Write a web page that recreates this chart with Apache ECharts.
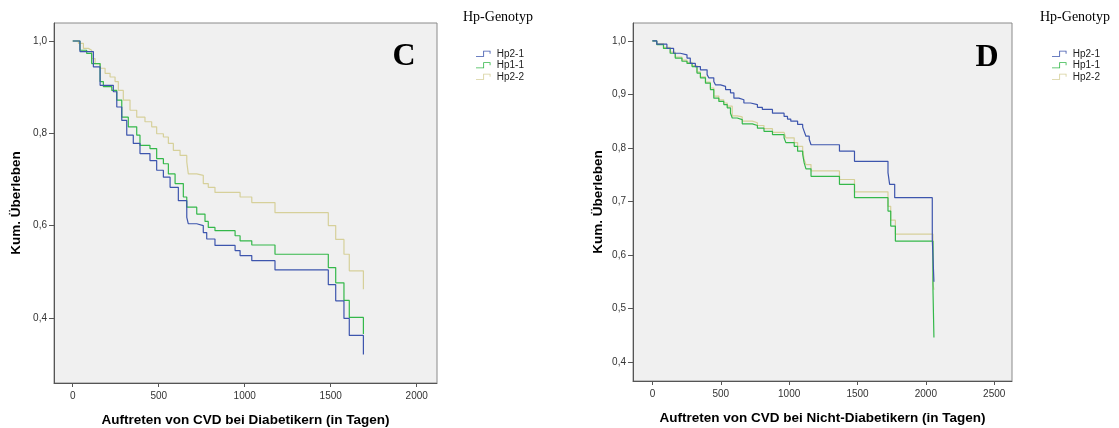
<!DOCTYPE html>
<html>
<head>
<meta charset="utf-8">
<script src="https://cdn.jsdelivr.net/npm/echarts@6/dist/echarts.min.js"></script>
<style>
html,body{margin:0;padding:0;background:#fff;}
#main{width:1119px;height:428px;}
</style>
</head>
<body>
<div id="main"></div>
<script>
// ---- data ----
const seriesNames = ['Hp2-1', 'Hp1-1', 'Hp2-2'];
const panelLetters = ['C', 'D'];
const legendTitle = 'Hp-Genotyp';
const xTitleC = 'Auftreten von CVD bei Diabetikern (in Tagen)';
const xTitleD = 'Auftreten von CVD bei Nicht-Diabetikern (in Tagen)';
const yTitle = 'Kum. Überleben';
const xTicksC = [0, 500, 1000, 1500, 2000];
const xTicksD = [0, 500, 1000, 1500, 2000, 2500];
const yTicksC = [0.4, 0.6, 0.8, 1.0];
const yTicksD = [0.4, 0.5, 0.6, 0.7, 0.8, 0.9, 1.0];

// Panel C (Diabetiker)
const cHp21T = [0, 42, 120, 159, 236, 256, 285, 314, 352, 391, 449, 488, 527, 566, 614, 663, 672, 721, 759, 779, 827, 944, 973, 1041, 1176, 1486, 1529, 1577, 1608, 1690];
const cHp21S = [1.0, 0.977, 0.944, 0.904, 0.890, 0.857, 0.828, 0.796, 0.778, 0.756, 0.741, 0.720, 0.705, 0.683, 0.654, 0.618, 0.604, 0.600, 0.585, 0.571, 0.557, 0.546, 0.535, 0.524, 0.504, 0.472, 0.437, 0.399, 0.362, 0.321];
const cHp11T = [0, 42, 81, 110, 159, 178, 227, 256, 285, 323, 372, 391, 449, 488, 527, 556, 595, 643, 663, 721, 769, 788, 827, 944, 973, 1041, 1176, 1486, 1529, 1577, 1608, 1690];
const cHp11S = [1.0, 0.980, 0.973, 0.951, 0.912, 0.901, 0.893, 0.872, 0.835, 0.814, 0.796, 0.774, 0.767, 0.745, 0.734, 0.712, 0.691, 0.662, 0.640, 0.625, 0.609, 0.596, 0.589, 0.578, 0.567, 0.558, 0.538, 0.509, 0.476, 0.438, 0.401, 0.365];
const cHp22T = [0, 33, 62, 91, 110, 130, 159, 188, 217, 246, 265, 294, 333, 372, 420, 459, 488, 527, 556, 585, 624, 663, 672, 721, 759, 788, 827, 973, 1041, 1176, 1486, 1529, 1577, 1608, 1690];
const cHp22S = [1.0, 0.995, 0.984, 0.980, 0.962, 0.951, 0.941, 0.930, 0.922, 0.912, 0.893, 0.872, 0.850, 0.835, 0.825, 0.814, 0.799, 0.792, 0.778, 0.763, 0.752, 0.738, 0.712, 0.709, 0.691, 0.683, 0.672, 0.662, 0.650, 0.628, 0.600, 0.570, 0.538, 0.502, 0.462];

// Panel D (Nicht-Diabetiker)
const dHp21T = [0, 32, 106, 155, 204, 253, 277, 314, 351, 400, 412, 449, 461, 498, 535, 571, 596, 632, 669, 718, 768, 804, 878, 963, 988, 1012, 1062, 1099, 1110, 1123, 1147, 1160, 1368, 1478, 1723, 1735, 1772, 2047, 2059];
const dHp21S = [1.0, 0.994, 0.986, 0.977, 0.974, 0.968, 0.958, 0.952, 0.946, 0.937, 0.931, 0.924, 0.918, 0.915, 0.909, 0.903, 0.893, 0.890, 0.884, 0.881, 0.876, 0.872, 0.865, 0.859, 0.854, 0.850, 0.844, 0.839, 0.831, 0.822, 0.816, 0.806, 0.794, 0.775, 0.754, 0.732, 0.707, 0.630, 0.550];
const dHp11T = [0, 32, 81, 130, 167, 216, 253, 290, 326, 351, 388, 424, 449, 486, 522, 547, 571, 584, 620, 657, 731, 768, 816, 878, 963, 976, 1037, 1062, 1099, 1110, 1123, 1160, 1368, 1478, 1723, 1743, 1777, 2052, 2059];
const dHp11S = [1.0, 0.993, 0.986, 0.977, 0.968, 0.962, 0.958, 0.952, 0.940, 0.931, 0.921, 0.909, 0.893, 0.887, 0.881, 0.875, 0.865, 0.856, 0.853, 0.845, 0.842, 0.837, 0.831, 0.825, 0.819, 0.810, 0.803, 0.794, 0.788, 0.772, 0.761, 0.747, 0.732, 0.707, 0.682, 0.654, 0.626, 0.536, 0.446];
const dHp22T = [0, 32, 81, 130, 167, 216, 253, 290, 326, 351, 388, 424, 449, 486, 522, 547, 584, 620, 657, 731, 768, 816, 878, 963, 976, 1037, 1062, 1099, 1110, 1123, 1160, 1368, 1478, 1723, 1743, 1777, 2052, 2059];
const dHp22S = [1.0, 0.995, 0.988, 0.979, 0.970, 0.964, 0.960, 0.954, 0.942, 0.933, 0.923, 0.912, 0.897, 0.890, 0.884, 0.878, 0.860, 0.858, 0.850, 0.847, 0.842, 0.836, 0.829, 0.828, 0.819, 0.810, 0.803, 0.797, 0.778, 0.769, 0.757, 0.741, 0.718, 0.691, 0.665, 0.639, 0.546, 0.535];

// ---- styling ----
const colors = {'Hp2-1': '#3d55ad', 'Hp1-1': '#34b84a', 'Hp2-2': '#d6d09a'};
const sans = '"Liberation Sans", Arial, sans-serif';
const serif = '"Liberation Serif", "Times New Roman", serif';
const stepIcon = 'path://M0,5 L7,5 L7,0 L14,0 L14,3 L13.2,3 L13.2,0.8 L7.8,0.8 L7.8,5.8 L0,5.8 Z';

function pairs(t, s) { return t.map((v, i) => [v, s[i]]); }
const fmtY = v => v.toFixed(1).replace('.', ',');

function xAxis(gridIndex, min, max, ticks, title) {
  return {
    type: 'value', gridIndex, min, max,
    name: title, nameLocation: 'middle', nameGap: 30,
    nameTextStyle: {fontFamily: sans, fontSize: 13.5, fontWeight: 'bold', color: '#000'},
    splitLine: {show: false},
    axisLine: {show: true, onZero: false, lineStyle: {color: '#555', width: 1}},
    axisTick: {show: true, length: 4, customValues: ticks, lineStyle: {color: '#555'}},
    axisLabel: {customValues: ticks, margin: 8, fontFamily: sans, fontSize: 10, color: '#333', formatter: v => String(v)}
  };
}
function yAxis(gridIndex, min, max, ticks, gap) {
  return {
    type: 'value', gridIndex, min, max,
    name: yTitle, nameLocation: 'middle', nameGap: gap, nameRotate: 90,
    nameTextStyle: {fontFamily: sans, fontSize: 13.5, fontWeight: 'bold', color: '#000'},
    splitLine: {show: false},
    axisLine: {show: true, onZero: false, lineStyle: {color: '#555', width: 1}},
    axisTick: {show: true, length: 5, customValues: ticks, lineStyle: {color: '#555'}},
    axisLabel: {customValues: ticks, margin: 7, fontFamily: sans, fontSize: 10, color: '#333', formatter: fmtY}
  };
}
function line(name, gi, t, s, z) {
  return {
    name, type: 'line', xAxisIndex: gi, yAxisIndex: gi, step: 'end',
    data: pairs(t, s), symbol: 'none', z,
    lineStyle: {color: colors[name], width: 1.2},
    itemStyle: {color: colors[name]}
  };
}
function legend(left) {
  return {
    left, top: 48, orient: 'vertical', padding: 0, itemGap: 0,
    itemWidth: 17, itemHeight: 6, icon: stepIcon,
    data: seriesNames,
    textStyle: {fontFamily: sans, fontSize: 10, color: '#222', lineHeight: 11.5}
  };
}

const chart = echarts.init(document.getElementById('main'));
chart.setOption({
  animation: false,
  backgroundColor: '#fff',
  grid: [
    {left: 54, top: 23, width: 383, height: 360, outerBoundsMode: 'none', containLabel: false, show: true, backgroundColor: '#f0f0f0', borderColor: '#8a8a8a', borderWidth: 1},
    {left: 633, top: 23, width: 379, height: 358, outerBoundsMode: 'none', containLabel: false, show: true, backgroundColor: '#f0f0f0', borderColor: '#8a8a8a', borderWidth: 1}
  ],
  xAxis: [xAxis(0, -109, 2118, xTicksC, xTitleC), xAxis(1, -142, 2630, xTicksD, xTitleD)],
  yAxis: [yAxis(0, 0.259, 1.039, yTicksC, 31), yAxis(1, 0.3645, 1.0335, yTicksD, 28)],
  legend: [legend(476), legend(1052)],
  graphic: [
    {type: 'text', x: 463, y: 17, style: {text: legendTitle, font: '14px ' + serif, fill: '#000', textVerticalAlign: 'middle'}},
    {type: 'text', x: 1040, y: 17, style: {text: legendTitle, font: '14px ' + serif, fill: '#000', textVerticalAlign: 'middle'}},
    {type: 'text', x: 404, y: 57, style: {text: panelLetters[0], font: 'bold 32px ' + serif, fill: '#000', textAlign: 'center', textVerticalAlign: 'middle'}},
    {type: 'text', x: 987, y: 58, style: {text: panelLetters[1], font: 'bold 32px ' + serif, fill: '#000', textAlign: 'center', textVerticalAlign: 'middle'}}
  ],
  series: [
    line('Hp2-2', 0, cHp22T, cHp22S, 2),
    line('Hp1-1', 0, cHp11T, cHp11S, 3),
    line('Hp2-1', 0, cHp21T, cHp21S, 4),
    line('Hp2-2', 1, dHp22T, dHp22S, 2),
    line('Hp1-1', 1, dHp11T, dHp11S, 3),
    line('Hp2-1', 1, dHp21T, dHp21S, 4)
  ]
});
</script>
</body>
</html>
